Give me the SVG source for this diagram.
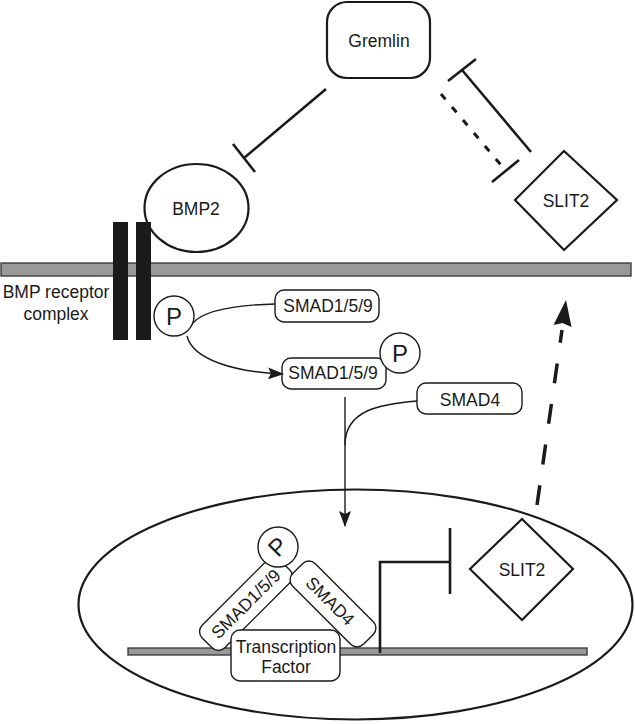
<svg xmlns="http://www.w3.org/2000/svg" width="635" height="724" viewBox="0 0 635 724">
<style>
text{font-family:"Liberation Sans",Arial,sans-serif;font-size:17.5px;fill:#1a1a1a;text-anchor:middle}
.box{fill:#fff;stroke:#1a1a1a;stroke-width:1.4}
.node{fill:#fff;stroke:#1a1a1a;stroke-width:2.2}
.ln{fill:none;stroke:#1a1a1a;stroke-width:2.6}
.thin{fill:none;stroke:#1a1a1a;stroke-width:1.4}
.bar{fill:#999;stroke:#333;stroke-width:1.3}
.p{font-size:24px}
</style>
<defs>
<marker id="ah" viewBox="0 0 16 12" refX="15" refY="6" markerWidth="16" markerHeight="12" markerUnits="userSpaceOnUse" orient="auto">
<path d="M0,0 L16,6 L0,12 L3,6 Z" fill="#1a1a1a"/>
</marker>
</defs>
<g id="membrane"><rect class="bar" x="1" y="263" width="630" height="13"/></g>
<g id="nucleus"><ellipse cx="355.5" cy="604.5" rx="277" ry="115" fill="none" stroke="#1a1a1a" stroke-width="2.2"/></g>
<g id="dna"><rect class="bar" x="128" y="648" width="459" height="7" stroke-width="1"/></g>
<g id="gremlin"><rect class="node" x="327" y="2" width="103" height="76" rx="20"/><text x="379" y="47">Gremlin</text></g>
<g id="bmp2"><ellipse class="node" cx="196.5" cy="208" rx="52" ry="44"/><text x="196" y="215">BMP2</text></g>
<g id="receptor"><rect x="113" y="222" width="15" height="118" fill="#1a1a1a"/><rect x="136" y="222" width="15" height="118" fill="#1a1a1a"/><text x="56" y="298">BMP receptor</text><text x="56" y="320">complex</text></g>
<g id="slit2-top"><polygon class="node" points="564,151 617,200 564,250 515,200"/><text x="566" y="207">SLIT2</text></g>
<g id="p1"><circle class="box" cx="174" cy="316" r="20"/><text class="p" x="174" y="325">P</text></g>
<g id="smad159-a"><rect class="box" x="275" y="290" width="104" height="32" rx="9"/><text x="328" y="312">SMAD1/5/9</text></g>
<g id="smad159-b"><rect class="box" x="282" y="358" width="104" height="31" rx="9"/><text x="333" y="379">SMAD1/5/9</text></g>
<g id="p2"><circle class="box" cx="400" cy="353" r="20"/><text class="p" x="400" y="362">P</text></g>
<g id="smad4"><rect class="box" x="417" y="383" width="105" height="31" rx="9"/><text x="470" y="406">SMAD4</text></g>
<g id="smad159-n"><g transform="translate(246,604) rotate(-45)"><rect class="box" x="-55" y="-16" width="110" height="32" rx="9"/><text x="0" y="6">SMAD1/5/9</text></g></g>
<g id="smad4-n"><g transform="translate(333,604) rotate(45)"><rect class="box" x="-50" y="-16" width="100" height="32" rx="9"/><text x="-4" y="6">SMAD4</text></g></g>
<g id="tf"><rect class="box" x="231" y="630" width="109" height="51" rx="9"/><text x="286" y="653">Transcription</text><text x="286" y="673">Factor</text></g>
<g id="p3"><circle class="box" cx="278" cy="547" r="20"/><g transform="translate(278,547) rotate(-45)"><text class="p" x="0" y="8">P</text></g></g>
<g id="slit2-n"><polygon class="node" points="522,519 573,569 522,620 470,569"/><text x="522" y="576">SLIT2</text></g>
<g id="connectors">
<path class="ln" d="M326,89 L244,158 M233,144 L255,172"/>
<path class="ln" d="M531,152 L462,70 M448,81 L476,59"/>
<path d="M441,94 L506,171" fill="none" stroke="#1a1a1a" stroke-width="3" stroke-dasharray="7 10"/>
<path class="ln" d="M492,182 L519,160"/>
<path class="thin" d="M193,323 C205,309 238,305 275,304"/>
<path class="thin" d="M187,336 C193,360 235,372 283,374" marker-end="url(#ah)"/>
<path class="thin" d="M345,397 V526" marker-end="url(#ah)"/>
<path class="thin" d="M417,401 C380,404 345,410 345,445"/>
<path d="M537,505 L562,330" fill="none" stroke="#1a1a1a" stroke-width="3.5" stroke-dasharray="20 21"/>
<path d="M566,300 L571.5,327 L562.5,323 L553.5,325 Z" fill="#1a1a1a"/>
<path class="ln" d="M380,653 V562 H450 M450,528 V594" stroke-width="3"/>
</g>
</svg>
